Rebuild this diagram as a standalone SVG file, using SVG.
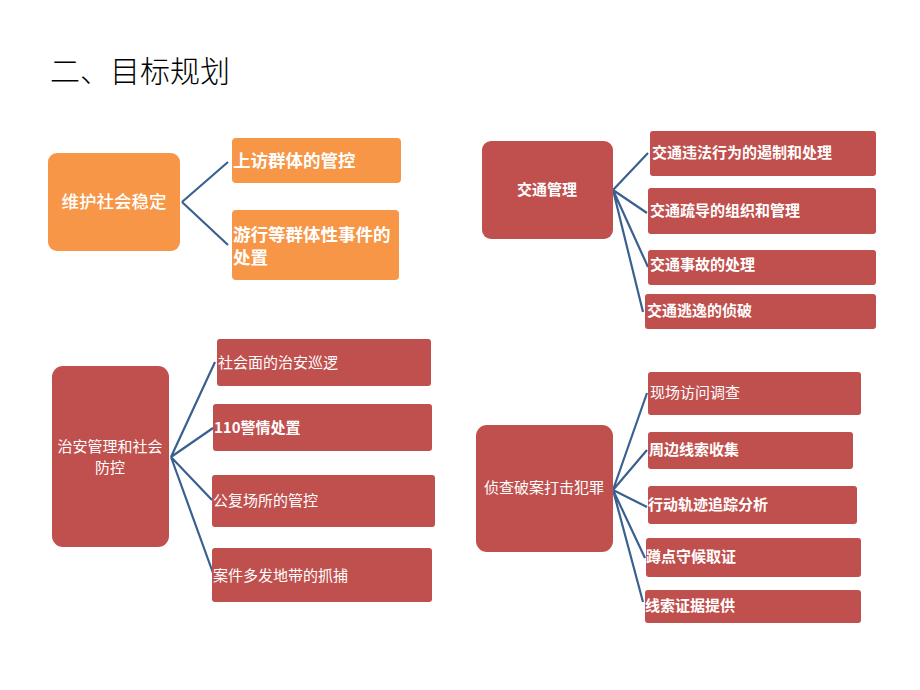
<svg xmlns="http://www.w3.org/2000/svg" width="920" height="690" viewBox="0 0 920 690">
<style>
.t{font-family:"Noto Sans CJK SC",sans-serif;font-size:30px;font-weight:300;fill:#000}
.o{fill:#F79646}
.r{fill:#C0504D}
.x{font-family:"Noto Sans CJK SC","Liberation Sans",sans-serif;fill:#fff;font-size:15px}
.b{font-weight:700}
.c{text-anchor:middle}
.big{font-size:17.5px}
.conn path{fill:none;stroke:#3A6090;stroke-width:2.2}
</style>
<rect width="920" height="690" fill="#fff"/>
<text class="t" x="50" y="82">二、目标规划</text>

<g class="conn" id="connectors">
<path d="M182 202 L228 162 M182 202 L228 245"/>
<path d="M613 190 L648 153 M613 190 L647 213 M613 190 L648 267 M613 190 L643 312"/>
<path d="M171 457 L215 362 M171 457 L213 428 M171 457 L212 500 M171 457 L213 573"/>
<path d="M613 490 L647 393 M613 490 L647 450 M613 490 L647 507 M613 490 L645 558 M613 490 L643 602"/>
</g>

<g id="n-weihu">
<rect class="o" x="48" y="153" width="132" height="98" rx="9"/>
<text class="x big c" x="114" y="208" font-weight="500">维护社会稳定</text>
</g>
<g id="n-shangfang">
<rect class="o" x="232" y="138" width="169" height="45" rx="4"/>
<text class="x big b" x="233" y="167">上访群体的管控</text>
</g>
<g id="n-youxing">
<rect class="o" x="232" y="210" width="167" height="70" rx="4"/>
<text class="x big b" x="233" y="241">游行等群体性事件的</text>
<text class="x big b" x="233" y="264">处置</text>
</g>

<g id="n-jiaotong">
<rect class="r" x="482" y="141" width="131" height="98" rx="9"/>
<text class="x b c" x="547" y="195">交通管理</text>
</g>
<g id="n-jt1">
<rect class="r" x="650" y="131" width="226" height="45" rx="3"/>
<text class="x b" x="652" y="158">交通违法行为的遏制和处理</text>
</g>
<g id="n-jt2">
<rect class="r" x="648" y="188" width="228" height="46" rx="3"/>
<text class="x b" x="650" y="216">交通疏导的组织和管理</text>
</g>
<g id="n-jt3">
<rect class="r" x="648" y="250" width="228" height="35" rx="3"/>
<text class="x b" x="650" y="270">交通事故的处理</text>
</g>
<g id="n-jt4">
<rect class="r" x="645" y="294" width="231" height="35" rx="3"/>
<text class="x b" x="647" y="316">交通逃逸的侦破</text>
</g>

<g id="n-zhian">
<rect class="r" x="52" y="366" width="117" height="181" rx="11"/>
<text class="x c" x="110" y="452">治安管理和社会</text>
<text class="x c" x="110" y="473">防控</text>
</g>
<g id="n-za1">
<rect class="r" x="217" y="339" width="214" height="47" rx="3"/>
<text class="x" x="218" y="368">社会面的治安巡逻</text>
</g>
<g id="n-za2">
<rect class="r" x="213" y="404" width="219" height="47" rx="3"/>
<text class="x b" x="214" y="433">110警情处置</text>
</g>
<g id="n-za3">
<rect class="r" x="212" y="475" width="223" height="52" rx="3"/>
<text class="x" x="213" y="506">公复场所的管控</text>
</g>
<g id="n-za4">
<rect class="r" x="212" y="548" width="220" height="54" rx="3"/>
<text class="x" x="213" y="581">案件多发地带的抓捕</text>
</g>

<g id="n-zhencha">
<rect class="r" x="476" y="425" width="137" height="127" rx="11"/>
<text class="x c" x="544" y="493">侦查破案打击犯罪</text>
</g>
<g id="n-zc1">
<rect class="r" x="648" y="372" width="213" height="43" rx="3"/>
<text class="x" x="650" y="398">现场访问调查</text>
</g>
<g id="n-zc2">
<rect class="r" x="648" y="432" width="205" height="37" rx="3"/>
<text class="x b" x="649" y="455">周边线索收集</text>
</g>
<g id="n-zc3">
<rect class="r" x="648" y="486" width="209" height="38" rx="3"/>
<text class="x b" x="648" y="510">行动轨迹追踪分析</text>
</g>
<g id="n-zc4">
<rect class="r" x="646" y="538" width="215" height="39" rx="3"/>
<text class="x b" x="646" y="562">蹲点守候取证</text>
</g>
<g id="n-zc5">
<rect class="r" x="645" y="590" width="216" height="33" rx="3"/>
<text class="x b" x="645" y="611">线索证据提供</text>
</g>
</svg>
